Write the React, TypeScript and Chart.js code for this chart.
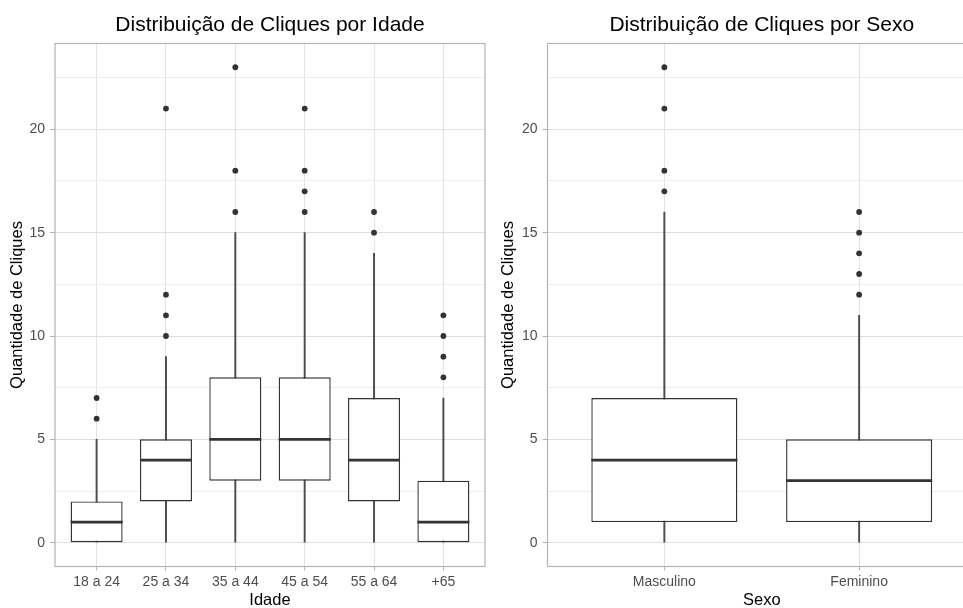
import React, { useEffect, useRef } from 'react';
import { Chart, registerables } from 'chart.js';

Chart.register(...registerables);

// ---------- data ----------
const AGE_LABELS = ['18 a 24', '25 a 34', '35 a 44', '45 a 54', '55 a 64', '+65'];
const AGE_MIN = [0, 0, 0, 0, 0, 0];
const AGE_Q1 = [0, 2, 3, 3, 2, 0];
const AGE_MED = [1, 4, 5, 5, 4, 1];
const AGE_Q3 = [2, 5, 8, 8, 7, 3];
const AGE_MAX = [5, 9, 15, 15, 14, 7];
const AGE_OUTLIERS = [[6, 7], [10, 11, 12, 21], [16, 18, 23], [16, 17, 18, 21], [15, 16], [8, 9, 10, 11]];

const SEX_LABELS = ['Masculino', 'Feminino'];
const SEX_MIN = [0, 0];
const SEX_Q1 = [1, 1];
const SEX_MED = [4, 3];
const SEX_Q3 = [7, 5];
const SEX_MAX = [16, 11];
const SEX_OUTLIERS = [[17, 18, 21, 23], [12, 13, 14, 15, 16]];

const Y_TICKS = [0, 5, 10, 15, 20];
const Y_MINOR = [2.5, 7.5, 12.5, 17.5, 22.5];
const Y_MIN = -1.15;
const Y_MAX = 24.15;

const FONT = '"Liberation Sans", Arial, Helvetica, sans-serif';
const INK = '#333333';

type PanelSpec = {
  title: string;
  xTitle: string;
  labels: string[];
  min: number[];
  q1: number[];
  med: number[];
  q3: number[];
  max: number[];
  outliers: number[][];
};

const medianPlugin = {
  id: 'boxMedian',
  afterDatasetsDraw(chart: any) {
    const idx = chart.data.datasets.findIndex((d: any) => d.label === 'box');
    if (idx < 0) return;
    const ds: any = chart.data.datasets[idx];
    const meta = chart.getDatasetMeta(idx);
    const ys = chart.scales.y;
    const ctx = chart.ctx;
    ctx.save();
    ctx.strokeStyle = INK;
    ctx.lineWidth = 2.7;
    meta.data.forEach((el: any, i: number) => {
      const { x, width } = el.getProps(['x', 'width'], true);
      const py = ys.getPixelForValue(ds.medians[i]);
      ctx.beginPath();
      ctx.moveTo(x - width / 2, py);
      ctx.lineTo(x + width / 2, py);
      ctx.stroke();
    });
    ctx.restore();
  },
};

const borderPlugin = {
  id: 'panelBorder',
  afterDraw(chart: any) {
    const { left, top, right, bottom } = chart.chartArea;
    const ctx = chart.ctx;
    ctx.save();
    ctx.strokeStyle = '#b3b3b3';
    ctx.lineWidth = 1.2;
    ctx.strokeRect(left, top, right - left, bottom - top);
    ctx.restore();
  },
};

function buildConfig(spec: PanelSpec, yWidth: number, padRight: number, yTitlePad: number): any {
  const n = spec.labels.length;
  const xs = spec.labels.map((_, i) => i + 1);
  const outlierPts: { x: number; y: number }[] = [];
  spec.outliers.forEach((arr, i) => arr.forEach((v) => outlierPts.push({ x: i + 1, y: v })));

  return {
    type: 'bar',
    data: {
      datasets: [
        {
          label: 'whisker',
          type: 'bar',
          data: xs.map((x, i) => ({ x, y: [spec.min[i], spec.max[i]] })),
          backgroundColor: '#4d4d4d',
          borderWidth: 0,
          barThickness: 1.3,
          grouped: false,
          order: 3,
        },
        {
          label: 'box',
          type: 'bar',
          data: xs.map((x, i) => ({ x, y: [spec.q1[i], spec.q3[i]] })),
          medians: spec.med,
          backgroundColor: '#ffffff',
          borderColor: INK,
          borderWidth: 1.4,
          borderSkipped: false,
          barPercentage: 0.75,
          categoryPercentage: 1,
          grouped: false,
          inflateAmount: 0,
          order: 2,
        },
        {
          label: 'outliers',
          type: 'scatter',
          data: outlierPts,
          pointRadius: 2.9,
          pointBackgroundColor: INK,
          pointBorderWidth: 0,
          order: 1,
        },
      ],
    },
    options: {
      responsive: false,
      animation: false,
      events: [],
      layout: { padding: { left: 0, right: padRight, top: 0, bottom: 0 } },
      plugins: {
        legend: { display: false },
        tooltip: { enabled: false },
        title: {
          display: true,
          text: spec.title,
          fullSize: false,
          color: '#000000',
          font: { family: FONT, size: 21, weight: 'normal', lineHeight: 1.2 },
          padding: { top: 12.5, bottom: 5.8 },
        },
      },
      scales: {
        x: {
          type: 'linear',
          min: 0.4,
          max: n + 0.6,
          bounds: 'data',
          offset: false,
          afterBuildTicks: (s: any) => {
            s.ticks = xs.map((v) => ({ value: v }));
          },
          afterFit: (s: any) => {
            s.height = 41.5;
          },
          ticks: {
            callback: (_v: any, i: number) => spec.labels[i] ?? '',
            autoSkip: false,
            maxRotation: 0,
            minRotation: 0,
            padding: 3.5,
            color: '#4d4d4d',
            font: { family: FONT, size: 14 },
          },
          grid: {
            offset: false,
            color: '#e4e4e4',
            lineWidth: 1,
            tickLength: 4,
            tickColor: '#b3b3b3',
          },
          border: { display: false },
          title: {
            display: true,
            text: spec.xTitle,
            color: '#000000',
            font: { family: FONT, size: 16.5, lineHeight: 0.87 },
            padding: { top: 0, bottom: 0 },
          },
        },
        y: {
          type: 'linear',
          min: Y_MIN,
          max: Y_MAX,
          bounds: 'data',
          afterBuildTicks: (s: any) => {
            s.ticks = [...Y_TICKS, ...Y_MINOR].sort((a, b) => a - b).map((v) => ({ value: v }));
          },
          afterFit: (s: any) => {
            s.width = yWidth;
          },
          ticks: {
            callback: (v: any) => (Y_TICKS.includes(v) ? String(v) : ''),
            autoSkip: false,
            padding: 5,
            color: '#4d4d4d',
            font: { family: FONT, size: 14 },
          },
          grid: {
            color: (c: any) => (c.tick && Y_TICKS.includes(c.tick.value) ? '#dedede' : '#ececec'),
            lineWidth: 1,
            tickLength: 5,
            tickColor: (c: any) => (c.tick && Y_TICKS.includes(c.tick.value) ? '#b3b3b3' : 'rgba(0,0,0,0)'),
          },
          border: { display: false },
          title: {
            display: true,
            text: 'Quantidade de Cliques',
            color: '#000000',
            font: { family: FONT, size: 16.5, lineHeight: 1.2 },
            padding: { top: yTitlePad, bottom: 0 },
          },
        },
      },
    },
    plugins: [medianPlugin, borderPlugin],
  };
}

function Panel(props: { spec: PanelSpec; left: number; width: number; yWidth: number; padRight: number; yTitlePad: number }) {
  const ref = useRef<HTMLCanvasElement | null>(null);
  useEffect(() => {
    if (!ref.current) return;
    const chart = new Chart(ref.current, buildConfig(props.spec, props.yWidth, props.padRight, props.yTitlePad));
    return () => chart.destroy();
  }, []);
  return (
    <canvas
      ref={ref}
      width={props.width}
      height={608}
      style={{ position: 'absolute', left: props.left, top: 0, width: props.width, height: 608, display: 'block' }}
    />
  );
}

const AGE_SPEC: PanelSpec = {
  title: 'Distribuição de Cliques por Idade',
  xTitle: 'Idade',
  labels: AGE_LABELS,
  min: AGE_MIN,
  q1: AGE_Q1,
  med: AGE_MED,
  q3: AGE_Q3,
  max: AGE_MAX,
  outliers: AGE_OUTLIERS,
};

const SEX_SPEC: PanelSpec = {
  title: 'Distribuição de Cliques por Sexo',
  xTitle: 'Sexo',
  labels: SEX_LABELS,
  min: SEX_MIN,
  q1: SEX_Q1,
  med: SEX_MED,
  q3: SEX_Q3,
  max: SEX_MAX,
  outliers: SEX_OUTLIERS,
};

export default function App() {
  return (
    <div
      style={{
        position: 'fixed',
        left: 0,
        top: 0,
        width: 963,
        height: 608,
        overflow: 'hidden',
        background: '#ffffff',
      }}
    >
      <Panel spec={AGE_SPEC} left={0} width={490} yWidth={55} padRight={5} yTitlePad={8} />
      <Panel spec={SEX_SPEC} left={490} width={490} yWidth={57.5} padRight={4} yTitlePad={9} />
    </div>
  );
}
